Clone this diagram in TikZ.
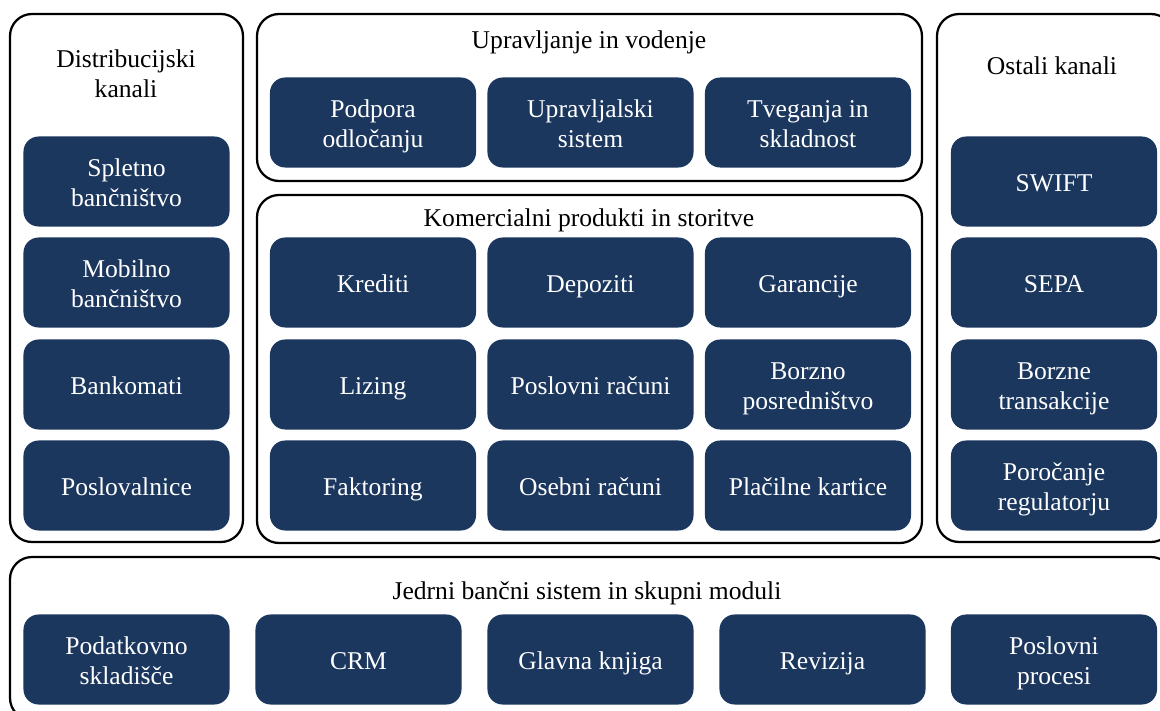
\documentclass[tikz,border=0pt]{standalone}
\usepackage{fontspec}
\setmainfont{Liberation Serif}
\definecolor{modra}{RGB}{27,55,94}
\newcommand{\opora}{\rule[-3.55pt]{0pt}{21.3pt}}
\newcommand{\dve}[2]{\raisebox{0pt}[0pt][0pt]{\begin{tabular}{@{}c@{}}#1\\#2\end{tabular}}}
\begin{document}
\begin{tikzpicture}[x=0.025cm,y=-0.025cm,font=\fontsize{18.2}{21.3}\selectfont,
        panel/.style={draw=black,line width=1.6pt,rounded corners=0.55cm},
        modul/.style={fill=modra,text=white,rounded corners=0.38cm,inner sep=0pt,
            minimum width=5.15cm,minimum height=2.25cm,align=center,
            execute at begin node=\opora,execute at end node=\opora},
        naslov/.style={align=center,inner sep=0pt,
            execute at begin node=\opora,execute at end node=\opora}]
        \useasboundingbox (0,0) rectangle (1160,711);
        \clip (0,0) rectangle (1160,711);

        \draw[panel] (10,14) rectangle (243,542);
        \draw[panel] (257,14) rectangle (922,181);
        \draw[panel] (257,195) rectangle (922,543);
        \draw[panel] (937,14) rectangle (1173,542);
        \draw[panel] (10,557) rectangle (1173,720);

        \node[naslov] (distribucija) at (126,73) {\dve{Distribucijski}{kanali}};
        \node[naslov] (upravljanje) at (589,39) {Upravljanje in vodenje};
        \node[naslov] (komercialni) at (589,217) {Komercialni produkti in storitve};
        \node[naslov] (ostali) at (1052,65) {Ostali kanali};
        \node[naslov] (jedro) at (587,590) {Jedrni bančni sistem in skupni moduli};

        % distribucijski kanali
        \node[modul] (spletno) at (126.5,181.5) {\dve{Spletno}{bančništvo}};
        \node[modul] (mobilno) at (126.5,282.5) {\dve{Mobilno}{bančništvo}};
        \node[modul] (bankomati) at (126.5,384.5) {Bankomati};
        \node[modul] (poslovalnice) at (126.5,485.5) {Poslovalnice};

        % upravljanje
        \node[modul] (podpora) at (373,122.5) {\dve{Podpora}{odločanju}};
        \node[modul] (upravljalski) at (590.5,122.5) {\dve{Upravljalski}{sistem}};
        \node[modul] (tveganja) at (808,122.5) {\dve{Tveganja in}{skladnost}};

        % produkti
        \node[modul] (krediti) at (373,282.5) {Krediti};
        \node[modul] (depoziti) at (590.5,282.5) {Depoziti};
        \node[modul] (garancije) at (808,282.5) {Garancije};
        \node[modul] (lizing) at (373,384.5) {Lizing};
        \node[modul] (poslovniracuni) at (590.5,384.5) {Poslovni računi};
        \node[modul] (borzno) at (808,384.5) {\dve{Borzno}{posredništvo}};
        \node[modul] (faktoring) at (373,485.5) {Faktoring};
        \node[modul] (osebniracuni) at (590.5,485.5) {Osebni računi};
        \node[modul] (kartice) at (808,485.5) {Plačilne kartice};

        % ostali kanali
        \node[modul] (swift) at (1054,181.5) {SWIFT};
        \node[modul] (sepa) at (1054,282.5) {SEPA};
        \node[modul] (transakcije) at (1054,384.5) {\dve{Borzne}{transakcije}};
        \node[modul] (porocanje) at (1054,485.5) {\dve{Poročanje}{regulatorju}};

        % jedro
        \node[modul] (skladisce) at (126.5,659.5) {\dve{Podatkovno}{skladišče}};
        \node[modul] (crm) at (358.5,659.5) {CRM};
        \node[modul] (knjiga) at (590.5,659.5) {Glavna knjiga};
        \node[modul] (revizija) at (822.5,659.5) {Revizija};
        \node[modul] (procesi) at (1054,659.5) {\dve{Poslovni}{procesi}};
    \end{tikzpicture}
\end{document}
